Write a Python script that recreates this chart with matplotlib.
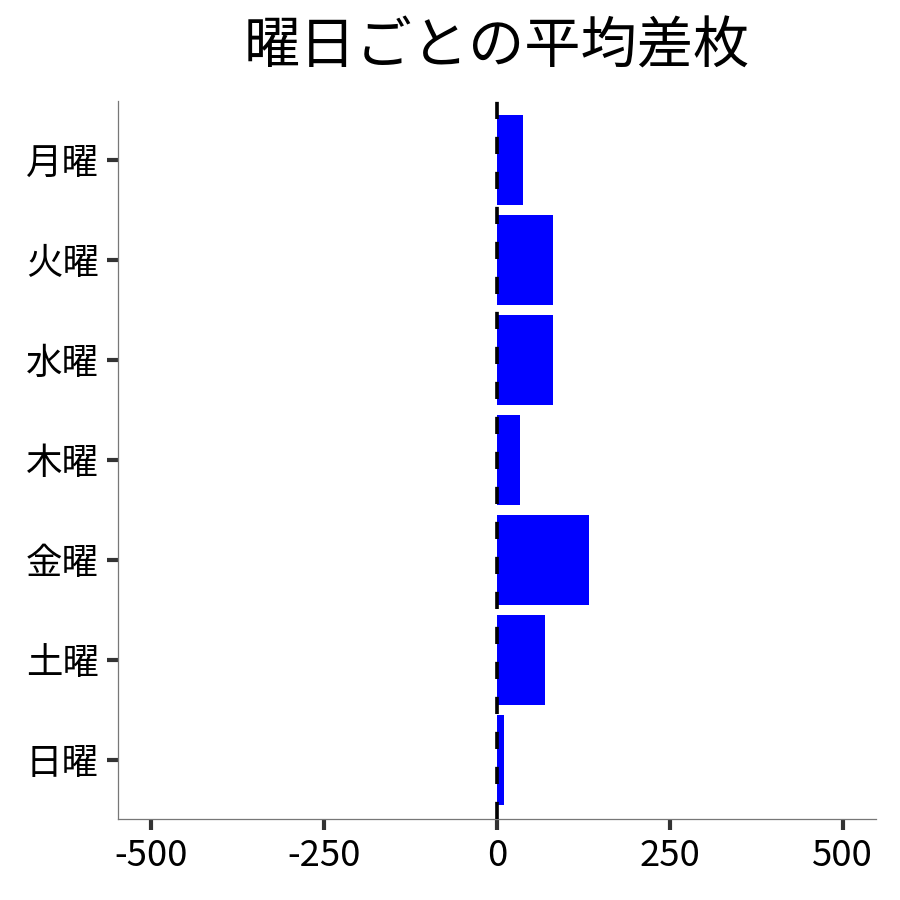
import matplotlib
matplotlib.use("Agg")
import matplotlib.pyplot as plt

plt.rcParams["font.family"] = ["Noto Sans CJK JP", "DejaVu Sans"]

# 曜日ごとの平均差枚
days = ["月曜", "火曜", "水曜", "木曜", "金曜", "土曜", "日曜"]
avg_diff = [38, 82, 82, 33, 133, 69, 11]
xticks = [-500, -250, 0, 250, 500]

fig = plt.figure(figsize=(6, 6), dpi=150)
ax = fig.add_axes([0.131, 0.09, 0.842, 0.798])

ax.barh(days, avg_diff, height=0.9, color="#0000ff", zorder=2)
# zero line drawn over the bars
ax.axvline(0, color="black", linewidth=1.75, linestyle=(0, (4.7, 4.9)), zorder=3)

ax.set_xlim(-548, 548)
ax.set_ylim(6.59, -0.59)
ax.set_xticks(xticks)
ax.set_xticklabels([str(v) for v in xticks])

ax.set_title("曜日ごとの平均差枚", fontsize=27, pad=18)

for side in ["top", "right"]:
    ax.spines[side].set_visible(False)
for side in ["left", "bottom"]:
    ax.spines[side].set_color("#777777")
    ax.spines[side].set_linewidth(0.6)

ax.tick_params(axis="both", labelsize=17.5, length=5.2, width=2.0,
               color="#333333", pad=4)

fig.savefig("out.png", dpi=150, facecolor="white")
